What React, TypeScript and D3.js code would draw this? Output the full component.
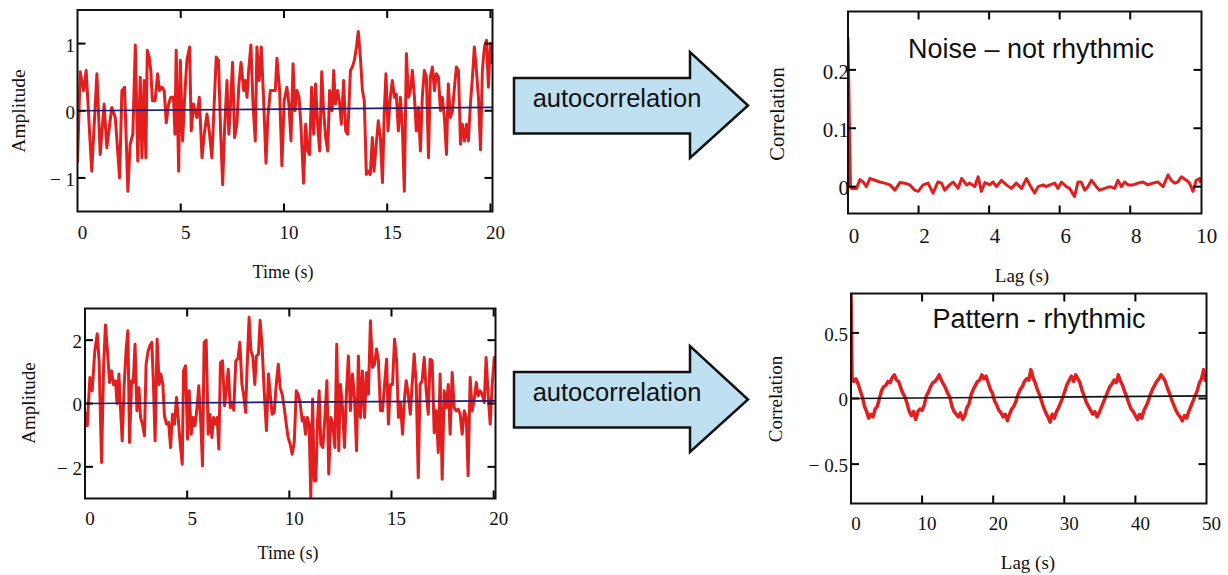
import React from 'react';
import * as d3 from 'd3';

// ---------- DATA ----------
// Top-left: random noise signal [time (s), amplitude]
const noiseSignal: [number, number][] = [
  [0.0,-0.77],[0.13,0.58],[0.29,0.3],[0.42,0.6],[0.69,-0.9],[0.94,0.55],[1.10,-0.65],[1.29,0.1],[1.42,-0.55],[1.66,0.05],
  [1.83,-0.1],[2.04,-1.0],[2.15,0.3],[2.28,0.35],[2.44,-1.2],[2.55,-0.5],[2.68,-0.35],[2.80,0.98],[2.92,-0.75],[3.04,0.5],
  [3.12,-0.7],[3.23,0.45],[3.31,-0.7],[3.38,0.9],[3.47,0.8],[3.55,0.6],[3.63,0.15],[3.76,0.15],[3.88,0.55],[3.97,0.3],
  [4.09,0.35],[4.20,0.3],[4.30,-0.18],[4.41,0.1],[4.52,0.2],[4.65,0.2],[4.72,-0.35],[4.78,0.9],[4.90,-0.9],[4.98,0.75],
  [5.09,-0.45],[5.19,0.2],[5.30,0.75],[5.43,0.95],[5.51,-0.3],[5.62,0.1],[5.78,-0.1],[5.90,0.2],[6.03,-0.7],[6.14,-0.35],
  [6.27,-0.05],[6.38,-0.3],[6.51,-0.7],[6.62,0.1],[6.72,0.8],[6.83,0.75],[6.93,-0.3],[7.03,-1.1],[7.12,-0.3],[7.24,0.45],
  [7.33,-0.35],[7.43,0.2],[7.51,0.72],[7.61,-0.4],[7.72,-0.2],[7.82,0.4],[7.92,0.72],[8.05,0.3],[8.13,0.45],[8.21,0.2],
  [8.29,0.6],[8.40,0.98],[8.50,0.1],[8.61,-0.45],[8.69,0.95],[8.80,0.45],[8.90,0.95],[9.01,0.2],[9.13,-0.78],[9.22,-0.1],
  [9.34,0.3],[9.47,0.3],[9.58,0.3],[9.66,0.78],[9.79,0.3],[9.90,-0.82],[10.01,0.15],[10.14,0.35],[10.24,0.1],[10.34,-0.45],
  [10.44,0.7],[10.53,0.0],[10.63,0.3],[10.73,0.2],[10.82,-0.2],[10.95,-1.08],[11.05,-0.2],[11.15,-0.6],[11.24,-0.65],[11.34,0.35],
  [11.44,-0.35],[11.53,0.4],[11.63,-0.2],[11.73,-0.6],[11.83,0.58],[11.92,0.0],[12.02,-0.4],[12.12,-0.6],[12.21,0.3],[12.33,0.0],
  [12.41,0.6],[12.49,0.1],[12.60,0.3],[12.70,0.1],[12.78,-0.2],[12.89,0.45],[12.99,-0.3],[13.09,-0.35],[13.22,0.6],[13.31,0.65],
  [13.41,0.75],[13.51,0.95],[13.60,1.18],[13.70,0.8],[13.80,0.3],[13.89,0.15],[13.99,-0.95],[14.09,-0.9],[14.18,-0.95],[14.28,-0.4],
  [14.36,-0.9],[14.47,-0.5],[14.57,-0.15],[14.67,-0.4],[14.77,-1.07],[14.86,0.0],[14.94,0.55],[15.04,-0.3],[15.15,0.2],[15.25,0.45],
  [15.35,0.2],[15.44,0.25],[15.54,-0.3],[15.64,0.2],[15.74,-0.3],[15.83,-1.2],[15.93,0.85],[16.03,0.2],[16.12,0.3],[16.22,0.6],
  [16.32,0.2],[16.41,-0.3],[16.51,0.05],[16.61,-0.6],[16.70,0.2],[16.80,0.6],[16.90,0.5],[17.00,-0.7],[17.09,0.5],[17.19,0.65],
  [17.29,0.3],[17.38,0.55],[17.48,0.5],[17.58,0.0],[17.67,0.2],[17.77,-0.1],[17.87,-0.65],[17.96,0.4],[18.06,-0.1],[18.16,0.0],
  [18.26,0.35],[18.35,0.65],[18.45,0.6],[18.55,-0.5],[18.64,-0.2],[18.74,-0.45],[18.84,-0.2],[18.93,-0.45],[19.03,0.1],[19.13,0.5],
  [19.22,0.95],[19.32,0.6],[19.42,0.2],[19.52,-0.58],[19.61,0.6],[19.71,0.95],[19.81,1.05],[19.90,0.35],[20.00,1.0],[20.10,0.7]
];
const noiseTrend: [number, number][] = [[0, 0.0], [20.1, 0.05]];

// Bottom-left: rhythmic pattern signal [time (s), amplitude]
const patternSignal: [number, number][] = [
  [0.00,-0.28],[0.11,-0.7],[0.24,0.82],[0.35,0.4],[0.48,1.66],[0.60,2.2],[0.69,1.35],[0.81,-1.86],[0.91,1.14],[1.00,2.48],
  [1.10,1.66],[1.20,0.66],[1.30,1.03],[1.39,0.6],[1.49,0.72],[1.57,0.0],[1.66,0.93],[1.74,-0.18],[1.82,-1.18],[1.92,0.6],
  [2.02,1.77],[2.10,2.3],[2.18,-1.23],[2.28,0.72],[2.36,0.66],[2.45,1.87],[2.54,-0.23],[2.64,0.5],[2.72,-0.44],[2.81,-0.65],
  [2.91,-1.02],[2.99,1.24],[3.09,1.66],[3.17,1.82],[3.27,1.93],[3.35,0.6],[3.43,-1.18],[3.53,2.03],[3.63,0.6],[3.71,0.93],
  [3.81,0.6],[3.89,-0.39],[3.99,-0.65],[4.09,-0.6],[4.19,-1.39],[4.28,-0.34],[4.38,-0.65],[4.48,0.19],[4.56,-0.44],[4.66,-1.28],
  [4.76,-1.92],[4.82,1.03],[4.92,1.19],[5.02,-1.13],[5.10,0.4],[5.20,-0.97],[5.29,-0.44],[5.38,-0.7],[5.47,-0.23],[5.57,0.56],
  [5.67,-0.65],[5.75,-1.97],[5.83,1.93],[5.93,2.0],[6.03,-0.97],[6.11,-0.34],[6.21,-1.07],[6.29,-0.44],[6.37,-0.65],[6.47,-0.44],
  [6.55,-1.44],[6.63,1.29],[6.73,1.35],[6.83,-0.07],[6.93,0.5],[7.01,1.08],[7.11,-0.13],[7.20,0.03],[7.28,-0.21],[7.38,1.35],
  [7.48,1.4],[7.58,1.93],[7.68,0.6],[7.76,0.29],[7.86,-0.28],[7.94,1.24],[8.03,2.72],[8.12,1.66],[8.21,1.5],[8.31,0.6],
  [8.39,1.5],[8.49,1.56],[8.57,2.63],[8.67,1.77],[8.77,0.4],[8.88,-0.86],[8.98,0.93],[9.08,0.19],[9.16,-0.34],[9.26,-0.28],
  [9.36,0.6],[9.46,1.24],[9.55,0.5],[9.65,0.29],[9.75,-0.13],[9.85,-0.65],[9.94,-1.07],[10.04,-1.28],[10.14,-1.6],[10.24,-1.23],
  [10.34,0.4],[10.43,0.29],[10.53,0.0],[10.63,-0.55],[10.71,-0.44],[10.79,-0.97],[10.88,-0.44],[10.97,-0.65],[11.05,-2.97],[11.14,0.14],
  [11.22,-2.44],[11.30,-2.44],[11.38,-0.55],[11.46,0.4],[11.54,-1.28],[11.64,-1.39],[11.74,-0.44],[11.84,0.72],[11.93,-2.23],[12.03,-0.44],
  [12.13,-0.65],[12.23,-1.39],[12.32,1.87],[12.42,-1.49],[12.50,0.6],[12.60,-0.13],[12.70,-1.39],[12.80,0.4],[12.89,1.5],[12.99,-0.23],
  [13.09,0.93],[13.19,0.19],[13.29,-1.49],[13.38,1.5],[13.48,-0.44],[13.58,1.03],[13.68,-0.44],[13.78,0.98],[13.87,0.29],[13.97,2.61],
  [14.07,1.14],[14.17,1.24],[14.27,1.72],[14.36,1.35],[14.46,-0.23],[14.56,-0.23],[14.66,0.6],[14.76,1.4],[14.85,-0.65],[14.95,0.6],
  [15.05,0.6],[15.15,2.03],[15.25,1.35],[15.34,-0.44],[15.44,0.03],[15.54,-0.97],[15.64,0.19],[15.72,0.72],[15.82,0.29],[15.92,-0.34],
  [16.01,0.6],[16.11,1.56],[16.21,0.6],[16.31,-2.34],[16.40,0.6],[16.50,0.72],[16.60,1.45],[16.70,0.4],[16.80,-0.34],[16.89,1.4],
  [16.99,1.35],[17.09,-0.92],[17.19,-0.23],[17.29,-1.55],[17.38,0.93],[17.48,-2.39],[17.58,0.4],[17.68,-0.13],[17.78,0.6],[17.87,-0.97],
  [17.97,0.98],[18.07,-0.13],[18.17,-0.23],[18.27,-0.18],[18.36,-0.34],[18.46,-0.97],[18.56,-0.23],[18.66,-0.44],[18.75,-2.28],[18.85,0.82],
  [18.95,-0.23],[19.05,0.14],[19.15,0.66],[19.24,0.24],[19.34,0.4],[19.44,0.29],[19.54,0.03],[19.63,1.45],[19.73,0.29],[19.83,-0.65],
  [19.93,0.6],[20.03,1.45],[20.09,1.24]
];
const patternTrend: [number, number][] = [[0, 0.0], [20.09, 0.08]];

// Top-right: autocorrelation of noise [lag (s), correlation]
const noiseAcf: [number, number][] = [
  [0,0.255],[0.07,0.0],[0.10,-0.003],[0.24,-0.003],[0.34,0.012],[0.43,0.008],[0.52,0.0],[0.62,0.014],[0.76,0.011],[0.90,0.008],
  [1.04,0.006],[1.19,0.003],[1.33,-0.006],[1.47,0.007],[1.61,0.006],[1.75,0.003],[1.89,-0.006],[1.99,-0.008],[2.13,0.003],[2.27,0.006],
  [2.41,-0.011],[2.55,0.008],[2.65,0.006],[2.74,-0.006],[2.88,0.003],[2.98,0.008],[3.12,-0.003],[3.22,0.014],[3.36,0.003],[3.45,0.006],
  [3.59,0.0],[3.69,0.017],[3.78,-0.008],[3.88,0.007],[4.02,0.003],[4.11,0.008],[4.21,0.0],[4.35,0.011],[4.49,0.003],[4.63,-0.003],
  [4.77,0.006],[4.92,-0.003],[5.06,0.014],[5.15,0.003],[5.29,-0.011],[5.39,0.0],[5.53,0.003],[5.62,0.0],[5.72,0.003],[5.86,0.006],
  [5.95,-0.003],[6.05,0.008],[6.19,0.0],[6.28,-0.003],[6.42,-0.017],[6.52,0.008],[6.61,0.008],[6.71,-0.006],[6.80,0.0],[6.90,0.011],
  [7.04,0.0],[7.13,-0.006],[7.28,-0.003],[7.42,0.0],[7.56,-0.003],[7.65,0.011],[7.75,0.0],[7.84,0.008],[7.94,0.003],[8.08,0.003],
  [8.22,0.006],[8.36,0.008],[8.50,0.003],[8.64,0.006],[8.78,0.008],[8.93,0.0],[9.07,0.02],[9.16,0.011],[9.26,0.006],[9.35,0.008],
  [9.45,0.017],[9.59,0.011],[9.68,0.006],[9.78,-0.008],[9.87,0.011],[9.97,0.014],[10.0,0.006]
];

// Bottom-right: autocorrelation of rhythmic pattern [lag (s), correlation]
const patternAcf: [number, number][] = [
  [0,0.80],[0.15,0.16],[0.4,0.13],[0.7,0.15],[1.0,0.11],[1.3,0.06],[1.6,0.01],[1.9,-0.06],[2.2,-0.10],[2.5,-0.15],
  [2.8,-0.12],[3.1,-0.14],[3.4,-0.08],[3.7,-0.06],[4.0,0.00],[4.3,0.06],[4.6,0.09],[4.9,0.10],[5.2,0.13],[5.5,0.12],
  [5.8,0.16],[6.1,0.18],[6.4,0.14],[6.7,0.13],[7.0,0.08],[7.3,0.04],[7.6,0.01],[7.9,-0.04],[8.2,-0.10],[8.5,-0.13],
  [8.8,-0.10],[9.1,-0.16],[9.4,-0.10],[9.7,-0.08],[10.0,-0.09],[10.3,-0.05],[10.6,0.02],[10.9,0.05],[11.2,0.09],[11.5,0.12],
  [11.8,0.13],[12.1,0.15],[12.4,0.18],[12.7,0.14],[13.0,0.11],[13.3,0.08],[13.6,0.04],[13.9,0.01],[14.2,-0.06],[14.5,-0.10],
  [14.8,-0.12],[15.1,-0.14],[15.4,-0.11],[15.7,-0.16],[16.0,-0.13],[16.3,-0.07],[16.6,-0.04],[16.9,0.03],[17.2,0.07],[17.5,0.10],
  [17.8,0.13],[18.1,0.14],[18.4,0.18],[18.7,0.15],[19.0,0.17],[19.3,0.12],[19.6,0.07],[19.9,0.04],[20.2,-0.02],[20.5,-0.05],
  [20.8,-0.09],[21.1,-0.11],[21.4,-0.14],[21.7,-0.12],[22.0,-0.17],[22.3,-0.12],[22.6,-0.08],[22.9,-0.06],[23.2,-0.02],[23.5,0.03],
  [23.8,0.07],[24.1,0.09],[24.4,0.13],[24.7,0.15],[25.0,0.14],[25.3,0.22],[25.6,0.16],[25.9,0.12],[26.2,0.07],[26.5,0.03],
  [26.8,-0.02],[27.1,-0.07],[27.4,-0.11],[27.7,-0.14],[28.0,-0.18],[28.3,-0.12],[28.6,-0.15],[28.9,-0.10],[29.2,-0.07],[29.5,-0.03],
  [29.8,0.01],[30.1,0.06],[30.4,0.11],[30.7,0.14],[31.0,0.17],[31.3,0.13],[31.6,0.18],[31.9,0.15],[32.2,0.12],[32.5,0.06],
  [32.8,0.02],[33.1,-0.03],[33.4,-0.06],[33.7,-0.09],[34.0,-0.12],[34.3,-0.10],[34.6,-0.14],[34.9,-0.11],[35.2,-0.07],[35.5,-0.03],
  [35.8,0.01],[36.1,0.05],[36.4,0.09],[36.7,0.11],[37.0,0.14],[37.3,0.12],[37.6,0.18],[37.9,0.13],[38.2,0.10],[38.5,0.05],
  [38.8,0.01],[39.1,-0.04],[39.4,-0.08],[39.7,-0.10],[40.0,-0.13],[40.3,-0.16],[40.6,-0.12],[40.9,-0.15],[41.2,-0.09],[41.5,-0.06],
  [41.8,-0.02],[42.1,0.03],[42.4,0.07],[42.7,0.10],[43.0,0.13],[43.3,0.15],[43.6,0.18],[43.9,0.16],[44.2,0.13],[44.5,0.08],
  [44.8,0.04],[45.1,-0.01],[45.4,-0.05],[45.7,-0.09],[46.0,-0.12],[46.3,-0.14],[46.6,-0.17],[46.9,-0.13],[47.2,-0.15],[47.5,-0.10],
  [47.8,-0.06],[48.1,-0.02],[48.4,0.02],[48.7,0.06],[49.0,0.12],[49.3,0.15],[49.6,0.22],[49.8,0.14],[50.0,0.19]
];
const patternAcfZero: [number, number][] = [[0, 0.0], [50, 0.02]];

const timeTicks = [0, 5, 10, 15, 20];
const noiseAmpTicks = [-1, 0, 1];
const patternAmpTicks = [-2, 0, 2];
const noiseLagTicks = [0, 2, 4, 6, 8, 10];
const noiseCorrTicks = [0, 0.1, 0.2];
const patternLagTicks = [0, 10, 20, 30, 40, 50];
const patternCorrTicks = [-0.5, 0, 0.5];

const arrowLabel = 'autocorrelation';
const titles = ['Noise – not rhythmic', 'Pattern - rhythmic'];

// ---------- STYLE ----------
const RED = '#e11f1f';
const SERIF = '"Liberation Serif", "Times New Roman", serif';
const SANS = '"Liberation Sans", Arial, sans-serif';

const fmt = (v: number) => (v < 0 ? `\u2212 ${Math.abs(v)}` : `${v}`);

type PanelProps = {
  id: string;
  x0: number; x1: number; y0: number; y1: number;
  xDomain: [number, number]; yDomain: [number, number];
  xTicks: number[]; yTicks: number[];
  data: [number, number][];
  lineWidth: number;
  refLine?: [number, number][];
  refColor?: string;
  xLabel: string; yLabel: string;
  xLabelPos: [number, number]; yLabelPos: [number, number];
  xTickBaseline: number; xTickDx: number; yTickRight: number;
  tickSize: number; labelSize: number; yLabelSize: number;
  title?: string; titlePos?: [number, number];
};

function Panel(p: PanelProps) {
  const xs = d3.scaleLinear().domain(p.xDomain).range([p.x0, p.x1]);
  const ys = d3.scaleLinear().domain(p.yDomain).range([p.y1, p.y0]);
  const line = d3.line<[number, number]>().x(d => xs(d[0])).y(d => ys(d[1]));
  const TL = 8;
  const eps = 1.5;
  return (
    <g>
      <defs>
        <clipPath id={p.id}>
          <rect x={p.x0} y={p.y0 - 1} width={p.x1 - p.x0} height={p.y1 - p.y0 + 2} />
        </clipPath>
      </defs>
      <g clipPath={`url(#${p.id})`}>
        <path d={line(p.data) || ''} fill="none" stroke={RED} strokeWidth={p.lineWidth} strokeLinejoin="round" />
        {p.refLine && (
          <path d={line(p.refLine) || ''} fill="none" stroke={p.refColor} strokeWidth={1.7} />
        )}
      </g>
      {p.xTicks.filter(t => Math.abs(xs(t) - p.x0) > eps && Math.abs(xs(t) - p.x1) > eps).map(t => (
        <g key={'xt' + t}>
          <line x1={xs(t)} x2={xs(t)} y1={p.y1} y2={p.y1 - TL} stroke="#000" strokeWidth={2} />
          <line x1={xs(t)} x2={xs(t)} y1={p.y0} y2={p.y0 + TL} stroke="#000" strokeWidth={2} />
        </g>
      ))}
      {p.yTicks.map(t => (
        <g key={'yt' + t}>
          <line x1={p.x0} x2={p.x0 + TL} y1={ys(t)} y2={ys(t)} stroke="#000" strokeWidth={2} />
          <line x1={p.x1} x2={p.x1 - TL} y1={ys(t)} y2={ys(t)} stroke="#000" strokeWidth={2} />
        </g>
      ))}
      <rect x={p.x0} y={p.y0} width={p.x1 - p.x0} height={p.y1 - p.y0} fill="none" stroke="#111" strokeWidth={2} />
      {p.xTicks.map(t => (
        <text key={'xl' + t} x={xs(t) + p.xTickDx} y={p.xTickBaseline} textAnchor="middle"
          fontFamily={SERIF} fontSize={p.tickSize} fill="#111">{fmt(t)}</text>
      ))}
      {p.yTicks.map(t => (
        <text key={'yl' + t} x={p.yTickRight} y={ys(t) + p.tickSize * 0.42} textAnchor="end"
          fontFamily={SERIF} fontSize={p.tickSize} fill="#111">{fmt(t)}</text>
      ))}
      <text x={p.xLabelPos[0]} y={p.xLabelPos[1]} textAnchor="middle" fontFamily={SERIF} fontSize={p.labelSize} fill="#111">
        {p.xLabel}
      </text>
      <text transform={`translate(${p.yLabelPos[0]},${p.yLabelPos[1]}) rotate(-90)`} textAnchor="middle"
        dominantBaseline="central" fontFamily={SERIF} fontSize={p.yLabelSize} fill="#111">
        {p.yLabel}
      </text>
      {p.title && p.titlePos && (
        <text x={p.titlePos[0]} y={p.titlePos[1]} textAnchor="middle" fontFamily={SANS} fontSize={27} fill="#111">
          {p.title}
        </text>
      )}
    </g>
  );
}

function Arrow({ dy }: { dy: number }) {
  const pts = [
    [514, 78], [690, 78], [690, 52], [748, 105.5], [690, 158], [690, 133.5], [514, 133.5],
  ].map(([x, y]) => `${x},${y + dy}`).join(' ');
  return (
    <g>
      <polygon points={pts} fill="#bfe0f1" stroke="#111" strokeWidth={2.5} strokeLinejoin="miter" />
      <text x={617} y={107 + dy} textAnchor="middle" fontFamily={SANS} fontSize={25.5} fill="#111">
        {arrowLabel}
      </text>
    </g>
  );
}

export default function App() {
  return (
    <svg width={1228} height={575} viewBox="0 0 1228 575"
      style={{ position: 'absolute', left: 0, top: 0, background: '#fff' }}>
      <rect x={0} y={0} width={1228} height={575} fill="#fff" />
      <Panel id="c1" x0={77.5} x1={492.5} y0={10} y1={211.5}
        xDomain={[0, 20.1]} yDomain={[-1.5, 1.5]} xTicks={timeTicks} yTicks={noiseAmpTicks}
        data={noiseSignal} lineWidth={3} refLine={noiseTrend} refColor="#1c1c78"
        xLabel="Time (s)" yLabel="Amplitude" xLabelPos={[283, 278]} yLabelPos={[18, 111]}
        xTickBaseline={239} xTickDx={5} yTickRight={75} tickSize={19} labelSize={18} yLabelSize={19.5} />
      <Panel id="c2" x0={85} x1={495.5} y0={308.5} y1={498.5}
        xDomain={[0, 20.09]} yDomain={[-3, 3]} xTicks={timeTicks} yTicks={patternAmpTicks}
        data={patternSignal} lineWidth={3} refLine={patternTrend} refColor="#1c1c78"
        xLabel="Time (s)" yLabel="Amplitude" xLabelPos={[288, 559]} yLabelPos={[28, 403]}
        xTickBaseline={524.5} xTickDx={5} yTickRight={82} tickSize={19} labelSize={18} yLabelSize={19} />
      <Panel id="c3" x0={848} x1={1201.5} y0={11.5} y1={213.5}
        xDomain={[0, 10.02]} yDomain={[-0.046, 0.3]} xTicks={noiseLagTicks} yTicks={noiseCorrTicks}
        data={noiseAcf} lineWidth={3}
        xLabel="Lag (s)" yLabel="Correlation" xLabelPos={[1022, 282]} yLabelPos={[777, 114]}
        xTickBaseline={243} xTickDx={6} yTickRight={849} tickSize={21} labelSize={19} yLabelSize={20.5}
        title={titles[0]} titlePos={[1031, 58]} />
      <Panel id="c4" x0={851} x1={1206.5} y0={293.5} y1={503.5}
        xDomain={[0, 50]} yDomain={[-0.8, 0.8]} xTicks={patternLagTicks} yTicks={patternCorrTicks}
        data={patternAcf} lineWidth={3.5} refLine={patternAcfZero} refColor="#111"
        xLabel="Lag (s)" yLabel="Correlation" xLabelPos={[1028, 569]} yLabelPos={[775, 399]}
        xTickBaseline={530} xTickDx={5} yTickRight={848} tickSize={19} labelSize={19} yLabelSize={19}
        title={titles[1]} titlePos={[1039, 328]} />
      <Arrow dy={0} />
      <Arrow dy={294} />
    </svg>
  );
}
